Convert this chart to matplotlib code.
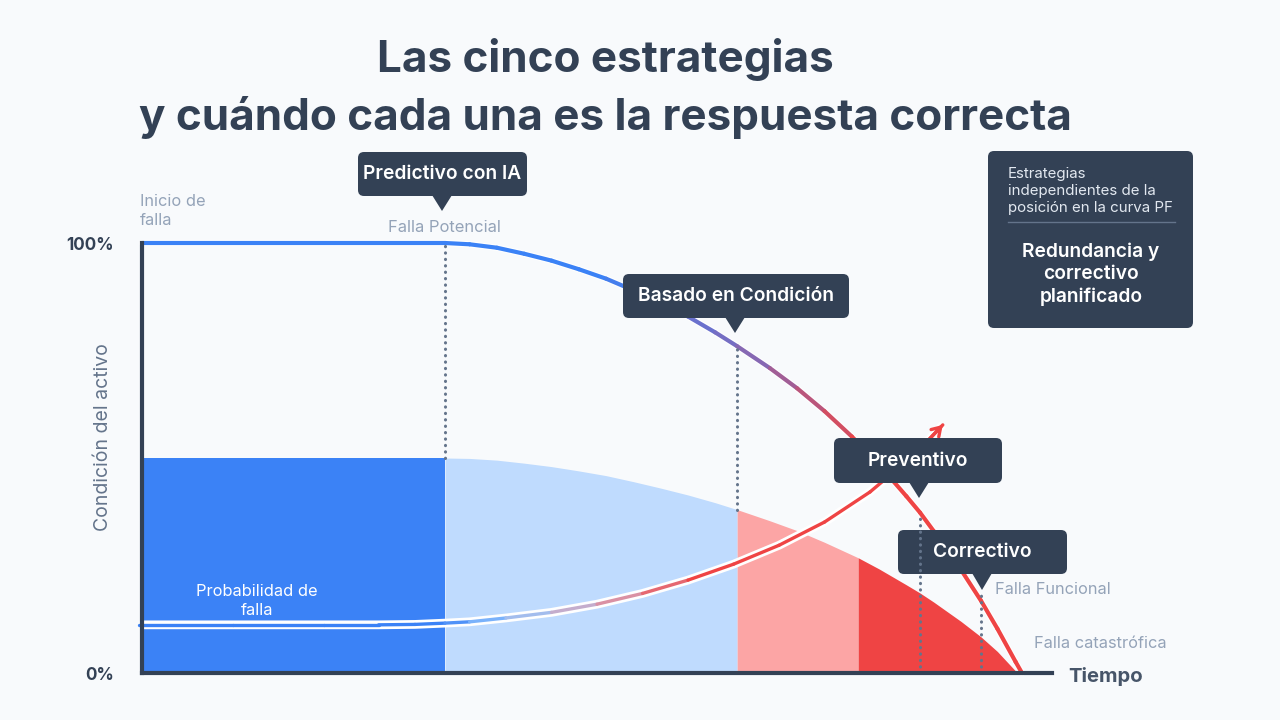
import numpy as np
import matplotlib
matplotlib.use('Agg')
import matplotlib.pyplot as plt
from matplotlib.collections import LineCollection
from matplotlib.patches import FancyBboxPatch, Polygon
from matplotlib.transforms import Affine2D
from matplotlib.colors import to_rgb

plt.rcParams['font.family'] = ['Inter', 'DejaVu Sans']

# ---------------- data ----------------
# P-F curve: asset condition (%) vs time (0-100)
pf_t = [0, 33.3, 36, 39, 42, 45, 48, 51, 54, 57, 60, 63, 65.4, 69, 72, 75, 78, 81, 84, 85.5,
        87, 90, 92.2, 94, 96, 96.7]
pf_c = [100, 100, 99.7, 98.9, 97.5, 95.9, 93.9, 91.7, 89.0, 86.1, 82.9, 79.2, 76.0, 70.9, 66.2,
        60.9, 55.0, 48.4, 41.1, 37.3, 33.0, 24.0, 16.8, 10.3, 2.6, 0]
# filled area under the curve
fill_t = [0, 33.3, 36, 39, 42, 45, 48, 51, 54, 57, 60, 63, 65.4, 69, 72, 75, 78.7, 81, 84, 85.5,
          87, 90, 92.2, 94, 96.2]
fill_c = [50, 50, 49.9, 49.5, 48.8, 48.0, 47.0, 45.9, 44.5, 43.0, 41.4, 39.6, 38.0, 35.4, 33.1,
          30.4, 26.8, 24.2, 20.5, 18.6, 16.5, 12.0, 8.4, 5.0, 0]
# probability of failure line
prob_t = [-0.3, 10, 20, 26, 30, 33.3, 36, 40, 45, 50, 55, 60, 65, 70, 75, 80, 85, 88]
prob_c = [11.2, 11.2, 11.2, 11.2, 11.3, 11.6, 11.9, 12.8, 14.1, 16.0, 18.5, 21.6, 25.3, 29.7,
          35.1, 42.1, 51.0, 57.7]
# zones of the filled area
zone_edges = [0, 33.3, 65.4, 78.7, 96.2]
zone_colors = ['#3b82f6', '#bfdbfe', '#fca5a5', '#ef4444']
# strategies and their point on the P-F curve (indices into pf_t)
strategies = ['Predictivo con IA', 'Basado en Condición', 'Preventivo', 'Correctivo']
strategy_idx = [1, 12, 19, 22]
y_ticks = [0, 100]
y_ticklabels = ['0%', '100%']

title_lines = ['Las cinco estrategias', 'y cuándo cada una es la respuesta correcta']

# ---------------- colours ----------------
BG = '#f8fafc'
DARK = '#334155'
BLUE = '#3b82f6'
RED = '#ef4444'
GREY = '#94a3b8'
DOT = '#64748b'

fig = plt.figure(figsize=(12.8, 7.2), dpi=100, facecolor=BG)
PX = Affine2D().scale(0.01, -0.01).translate(0, 7.2) + fig.dpi_scale_trans

ax = fig.add_axes([142 / 1280, 47 / 720, 910 / 1280, 430 / 720])
ax.set_facecolor('none')
ax.set_xlim(0, 100)
ax.set_ylim(0, 100)
for s in ['top', 'right']:
    ax.spines[s].set_visible(False)
for s in ['left', 'bottom']:
    ax.spines[s].set_color(DARK)
    ax.spines[s].set_linewidth(3)
    ax.spines[s].set_zorder(8)
ax.set_xticks([])
ax.set_yticks(y_ticks)
ax.set_yticklabels(y_ticklabels, fontsize=12.3, fontweight='bold', color=DARK)
ax.tick_params(axis='y', length=0, pad=20)

# ---- filled zones
ft = np.array(fill_t)
fc = np.array(fill_c)
for i, col in enumerate(zone_colors):
    lo, hi = zone_edges[i], zone_edges[i + 1]
    m = (ft >= lo - 1e-9) & (ft <= hi + 1e-9)
    ax.fill_between(ft[m], 0, fc[m], color=col, lw=0, zorder=1)


def blend(c1, c2, f):
    a, b = np.array(to_rgb(c1)), np.array(to_rgb(c2))
    return tuple(a + (b - a) * f)


def grad_colors(ts, stops):
    cols = []
    st = [s[0] for s in stops]
    for tt in ts:
        if tt <= st[0]:
            cols.append(to_rgb(stops[0][1]))
            continue
        if tt >= st[-1]:
            cols.append(to_rgb(stops[-1][1]))
            continue
        for j in range(len(stops) - 1):
            if stops[j][0] <= tt <= stops[j + 1][0]:
                f = (tt - stops[j][0]) / (stops[j + 1][0] - stops[j][0])
                cols.append(blend(stops[j][1], stops[j + 1][1], f))
                break
    return cols


# ---- probability of failure line
pt = np.array(prob_t)
pc = np.array(prob_c)
ax.plot(pt, pc, color='white', lw=6.3, solid_capstyle='butt', solid_joinstyle='round',
        zorder=3, clip_on=False)
segs = [[(pt[i], pc[i]), (pt[i + 1], pc[i + 1])] for i in range(len(pt) - 1)]
mids = (pt[:-1] + pt[1:]) / 2
pcols = grad_colors(mids, [(33, BLUE), (40, '#93c5fd'), (50, '#d4a5bd'), (62, RED)])
ax.add_collection(LineCollection(segs, colors=pcols, linewidths=2.4, capstyle='round',
                                 zorder=3.2, clip_on=False))
ax.annotate('', xy=(pt[-1], pc[-1]), xytext=(pt[-2], pc[-2]),
            arrowprops=dict(arrowstyle='->,head_length=0.6,head_width=0.38', color=RED, lw=2.4,
                            shrinkA=0, shrinkB=0), zorder=3.3, annotation_clip=False)

# ---- P-F curve
t = np.array(pf_t)
c = np.array(pf_c)
ax.plot(t, c, color='white', lw=4.6, solid_capstyle='round', solid_joinstyle='round',
        zorder=4, clip_on=False)
segs = [[(t[i], c[i]), (t[i + 1], c[i + 1])] for i in range(len(t) - 1)]
mids = (t[:-1] + t[1:]) / 2
ccols = grad_colors(mids, [(50, BLUE), (66, '#7c6bbd'), (80, RED)])
ax.add_collection(LineCollection(segs, colors=ccols, linewidths=3.0, capstyle='round',
                                 joinstyle='round', zorder=4.2, clip_on=False))

# ---- dotted verticals
i0, i1, i2, i3 = strategy_idx
dot_kw = dict(ls=(0, (0.1, 2.0)), color=DOT, lw=2.2, dash_capstyle='round', zorder=7)
ax.plot([t[i0]] * 2, [fc[1], c[i0]], **dot_kw)
ax.plot([t[i1]] * 2, [fc[12], c[i1]], **dot_kw)
ax.plot([t[i2]] * 2, [0, c[i2]], **dot_kw)
ax.plot([t[i3]] * 2, [0, c[i3] + 2], **dot_kw)


# ---- bubbles
def bubble(x0, y0, x1, y1, tipx, tipy, text, z):
    box = FancyBboxPatch((x0, y0), x1 - x0, y1 - y0, boxstyle='round,pad=0,rounding_size=6',
                         transform=PX, facecolor=DARK, edgecolor='none', zorder=z, clip_on=False)
    ax.add_patch(box)
    tri = Polygon([(tipx - 10, y1 - 1), (tipx + 10, y1 - 1), (tipx, tipy)], closed=True,
                  transform=PX, facecolor=DARK, edgecolor='none', zorder=z, clip_on=False)
    ax.add_patch(tri)
    ax.text((x0 + x1) / 2, (y0 + y1) / 2, text, transform=PX, ha='center', va='center',
            color='white', fontsize=13.8, fontweight='semibold', zorder=z + 0.1, clip_on=False)


bubble(358, 152, 527, 196, 442, 211, strategies[0], 6)
bubble(623, 274, 849, 318, 735, 333, strategies[1], 6)
bubble(834, 438, 1002, 483, 919, 498, strategies[2], 6)
bubble(898, 530, 1067, 574, 982, 590, strategies[3], 6)

# ---- side box
ax.add_patch(FancyBboxPatch((988, 151), 205, 177, boxstyle='round,pad=0,rounding_size=6',
                            transform=PX, facecolor=DARK, edgecolor='none', zorder=6, clip_on=False))
ax.text(1008, 191, 'Estrategias\nindependientes de la\nposición en la curva PF', transform=PX,
        ha='left', va='center', color='#e2e8f0', fontsize=10.85, linespacing=1.25, zorder=7)
ax.plot([1008, 1175], [222, 222], transform=PX, color='#64748b', lw=1, zorder=7, clip_on=False)
ax.text(1091, 274, 'Redundancia y\ncorrectivo\nplanificado', transform=PX, ha='center', va='center',
        color='white', fontsize=13.8, fontweight='semibold', linespacing=1.3, zorder=7)

# ---- labels
ax.text(140, 211, 'Inicio de\nfalla', transform=PX, ha='left', va='center', color=GREY,
        fontsize=11.8, linespacing=1.4)
ax.text(444, 227, 'Falla Potencial', transform=PX, ha='center', va='center', color=GREY, fontsize=11.9)
ax.text(995, 590, 'Falla Funcional', transform=PX, ha='left', va='center', color=GREY, fontsize=11.8)
ax.text(1034, 644, 'Falla catastrófica', transform=PX, ha='left', va='center', color=GREY, fontsize=11.8)
ax.text(257, 601, 'Probabilidad de\nfalla', transform=PX, ha='center', va='center', color='white',
        fontsize=11.8, linespacing=1.4, zorder=3.5)
ax.text(1068, 677, 'Tiempo', transform=PX, ha='left', va='center', color='#475569',
        fontsize=14.6, fontweight='bold')
ax.text(103, 437, 'Condición del activo', transform=PX, ha='center', va='center', rotation=90,
        color='#64748b', fontsize=14)

# ---- title
ax.text(605, 72, title_lines[0], transform=PX, ha='center', va='baseline', color=DARK,
        fontsize=31.7, fontweight='bold')
ax.text(605, 130, title_lines[1], transform=PX, ha='center', va='baseline', color=DARK,
        fontsize=31.7, fontweight='bold')

fig.savefig('out.png', dpi=100, facecolor=BG)
